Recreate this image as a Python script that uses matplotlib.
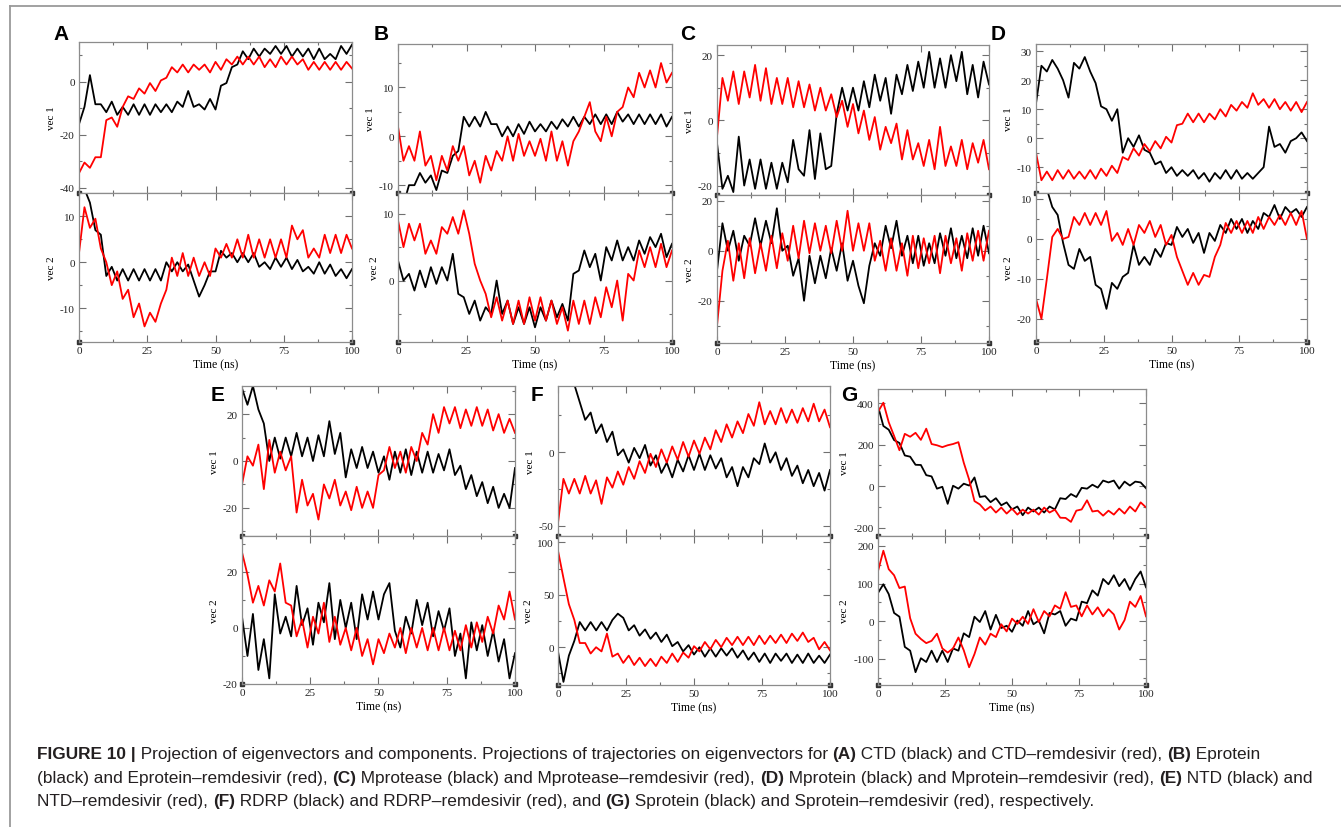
import numpy as np
import matplotlib.pyplot as plt
from matplotlib.lines import Line2D
from matplotlib.ticker import MultipleLocator

plt.rcParams['font.family'] = ['Liberation Serif', 'DejaVu Serif']
plt.rcParams['axes.unicode_minus'] = False

W, H = 1341, 828

# sampling grid of the read-off traces (ns)
time = np.linspace(0, 100, 51)

# values, alternating upper / lower edge of each noisy trace
a1k = [-16, -9.5, 2.5, -8.5, -8.5, -11.5, -7.5, -12.5, -9.5, -12.5, -8.5, -12.5, -8.5, -12.5, -8.5, -11.5, -8.5,
       -11.5, -7.5, -9.5, -3.5, -9.5, -8.5, -10.5, -6.5, -10.5, -1.5, -0.5, 5.5, 6.5, 11.5, 8.5, 12.5, 9.5, 12.5,
       10.5, 13.5, 10.5, 13.5, 9.5, 12.5, 9.5, 12.5, 8.5, 12.5, 8.5, 10.5, 8.5, 13.5, 10.5, 14]
a1r = [-34.5, -30.5, -32.5, -28.5, -28.5, -14.5, -13.5, -17, -9.5, -5.5, -6.5, -2.5, -4.5, -0.5, -3.5, 0.5, 1.5,
       5.5, 3.5, 6.5, 3.5, 6.5, 4.5, 6.5, 3.5, 7.5, 4.5, 8.5, 6.5, 9.5, 6.5, 9.5, 6.5, 9.5, 5.5, 8.5, 5.5, 9.5,
       6.5, 9.5, 6.5, 8.5, 4.5, 7.5, 4.5, 7.5, 4.5, 7.5, 4.5, 7.5, 5]
a2k = [16, 16, 13, 7, 6, -3, -1, -4, -1.5, -4, -1.5, -4, -1.5, -4, -1.5, -4, 0, -2, 0, -2, -0.5, -4, -7.5, -5,
       -2, -2, 2.5, 1, 2, 0, 2, 0, 2, -1, 0, -1.5, 1, -1, 1, -1.5, 0.5, -2, -1, -2.5, 0, -2.5, -0.5, -3, -1.5,
       -3.5, -1.5]
a2r = [2, 12, 7.5, 9.5, 3, 0, -5, -2, -8, -6, -12, -9, -14, -11, -13, -9, -6, 1, -3, 2, -3, 1, -3, 0, -3, 3, 1,
       4, 1, 5, 1, 6, 1, 5, 1, 5, 1, 5, 1, 8, 5, 7, 1, 3, 1, 6, 2, 6, 2, 6, 3]

b1k = [-14, -14, -10, -10, -7.5, -9.5, -8, -11, -7, -7.5, -4, -3, 4, 2, 4, 2, 5, 2.5, 2.5, 0, 2, 0, 2.5, 0.5, 3,
       1, 2.5, 1, 3, 1.5, 3.5, 2, 4, 2, 4, 2.5, 4.5, 2.5, 4.5, 2.5, 5, 3, 4.5, 2.5, 4.5, 2.5, 4.5, 2.5, 4.5, 2, 4]
b1r = [2, -5, -2, -5, 1, -6, -4, -9, -4, -7, -2, -5, -2, -8, -5, -9.5, -4, -7, -3, -5, 0, -5, 0.5, -4, -1, -4,
       -0.5, -5, 1, -5, -1, -6, -1, 1, 4, 7, 1, -1, 4, 0, 5, 6, 10, 8, 13, 10, 13.5, 10, 15, 11, 13]
b2k = [3, 0, 1, -1.5, 1.5, -1, 2, -0.5, 2, 0, 4, -2, -2.5, -5, -3, -6, -4, -5, 0, -5, -3, -6.5, -4, -6.5, -4,
       -7, -4, -6, -3, -5.5, -3.5, -6, 1, 1.5, 4.5, 2, 4, 0, 5, 3, 6, 3, 5, 3, 6, 4, 6.5, 5, 7, 3.5, 5.5]
b2r = [9, 5, 8.5, 6, 8.5, 4, 6, 4, 8, 7, 9.5, 7, 10.5, 7, 2.5, 0, -2, -5.5, -2.5, -6, -3, -6.5, -3, -6.5, -2.5,
       -6, -2.5, -6, -3, -6.5, -4, -7.5, -3, -6.5, -3, -6.5, -2.5, -5.5, -1, -4, 0, -6, 1, 0, 4.5, 2, 5, 2, 5.5,
       2, 4.5]

c1k = [-7, -21, -17, -22, -5, -20, -12, -21, -12, -21, -13, -21, -13, -19, -6, -15, -17, -3, -18, -4, -15, -14,
       2, 10, 3, 10, 3, 12, 4, 14, 6, 13, 2, 14, 8, 17, 9, 18, 10, 21, 10, 19, 10, 20, 12, 21, 8, 17, 7, 18, 11]
c1r = [-5, 13, 6, 15, 5, 15, 7, 17, 6, 16, 5, 13, 5, 13, 4, 12, 4, 11, 3, 10, 3, 8, 1, 6, -2, 5, -4, 3, -6, 1,
       -9, -2, -7, -1, -12, -3, -12, -7, -14, -6, -15, -2, -14, -8, -14, -6, -15, -7, -13, -6, -15]
c2k = [-8, 11, 0, 8, -4, 6, 2, 13, 2, 12, 3, 17, 0, 2, -10, -3, -20, -2, -13, -2, -11, 1, -8, 3, -12, -4, -14,
       -21, -6, 3, -2, 10, 1, 12, -2, 6, -5, 6, -6, 3, -5, 7, -2, 9, -3, 6, -3, 9, -2, 10, -1]
c2r = [-30, -8, 4, -12, 3, -11, 5, -9, 3, -8, 6, -7, 7, -4, 10, -3, 12, -1, 11, 0, 10, -1, 12, 0, 16, 0, 11, 0,
       11, -4, 4, -8, 5, -8, 3, -10, 6, -7, 5, -5, 6, -9, 6, -5, 5, -8, 7, -4, 8, -4, 8]

d1k = [12, 25, 23, 27, 24, 20, 14, 26, 24, 28, 23, 19, 11, 10, 6, 10, -5, 0, -3, 1, -4, -5, -9, -8, -12, -10,
       -13, -11, -13, -11, -14, -12, -15, -12, -14, -11, -14, -11, -14, -12, -14, -12, -10, 4, -3, -2, -5, -1,
       0, 2, -1]
d1r = [-5, -14.5, -11.5, -14.5, -11, -14, -11, -14, -11.5, -14, -11, -14, -10.5, -13, -9.5, -12, -6.5, -7.5,
       -3.5, -6, -2, -4.5, -1, -3.5, 0.5, -1.5, 4.5, 5, 8.5, 5.5, 8.5, 5.5, 8.5, 6.5, 10, 7.5, 11.5, 9.5, 12.5,
       10.5, 15.5, 11.5, 13.5, 10.5, 13.5, 10, 12.5, 9.5, 12.5, 9, 12.5]
d2k = [14, 12, 12.5, 8, 6, -1, -6.5, -7.5, -2.5, -5.5, -4.5, -11.5, -12.5, -17.5, -11, -12.5, -9.5, -8.5, -1.5,
       -6.5, -4.5, -6.5, -2.5, -4.5, -1, -1.5, 3, 0.5, 2.5, -1, 1.5, -3.5, 1.5, -0.5, 3.5, 1.5, 5, 2.5, 5, 1.5,
       4.5, 2.5, 6.5, 5.5, 8.5, 5, 8, 6.5, 7.5, 5.5, 8]
d2r = [-15, -20, -10, 0.5, 2.5, 0, 0.5, 5.5, 3.5, 6.5, 3.5, 6.5, 3.5, 7, -0.5, 1.5, -1.5, 2.5, -1.5, 3.5, 1.5,
       4.5, 0.5, 3.5, -1.5, 1, -4.5, -8, -11.5, -8.5, -11.5, -9, -9.5, -4.5, -1.5, 4, 1.5, 4.5, 1.5, 4.5, 1.5,
       5.5, 2.5, 5.5, 3.5, 6, 3.5, 6.5, 3.5, 7, 0]

e1k = [31, 24, 32, 22, 16, 0, 10, 1, 10, 2, 12, 2, 10, 0, 11, 2, 17, 3, 12, -7, 5, -3, 6, -3, 4, -5, 2, -8, 4,
       -5, 5, -6, 4, -5, 4, -5, 3, -4, 5, -6, -2, -12, -6, -15, -9, -18, -11, -20, -14, -20, -3]
e1r = [-10, 2, -2, 7, -12, 9, -5, 4, -4, 2, -22, -8, -19, -14, -25, -10, -16, -8, -19, -13, -21, -11, -20, -13,
       -20, -6, -4, 6, -3, 4, -5, 6, 0, 12, 7, 20, 12, 23, 16, 23, 14, 22, 15, 23, 15, 22, 13, 20, 12, 18, 12]
e2k = [4, -10, 5, -15, -4, -18, 12, -2, 4, -3, 15, 1, 7, -6, 9, 2, 16, -4, 10, 0, 9, -4, 12, 3, 13, 3, 12, 16,
       -1, -7, 4, -2, 10, 1, 9, -3, 6, -1, 7, -10, -2, -18, 2, -8, 1, -10, -1, -12, -4, -18, -9]
e2r = [27, 19, 9, 15, 8, 17, 13, 23, 9, 8, -3, 3, -7, 4, -2, 9, -5, 4, -6, 0, -8, 0, -10, -4, -13, -4, -9, -2,
       -7, 0, -9, 0, -7, 0, -8, 0, -8, 0, -8, -1, -8, 1, -7, 2, -5, 4, -2, 8, 3, 13, 3]

f1k = [90, 75, 62, 46, 34, 22, 27, 13, 19, 7, 14, -2, 2, -7, 3, -4, 5, -9, -2, -14, -7, -17, -5, -13, -2, -12,
       -1, -12, -2, -11, -4, -17, -10, -23, -10, -17, -4, -8, 6, -7, 0, -12, -4, -16, -9, -21, -12, -23, -14,
       -26, -12]
f1r = [-48, -18, -28, -18, -28, -16, -28, -19, -35, -17, -24, -13, -22, -10, -18, -6, -14, -1, -10, 2, -7, 4,
       -5, 7, -3, 8, -1, 10, 2, 15, 7, 19, 10, 21, 13, 26, 18, 34, 19, 28, 19, 30, 20, 29, 20, 30, 21, 33, 21,
       29, 17]
f2k = [-4, -33, -8, 6, 24, 16, 24, 16, 24, 16, 26, 32, 28, 16, 21, 11, 17, 8, 14, 5, 12, 1, 5, -4, 2, -7, 0, -9,
       -1, -9, -1, -8, -1, -10, -3, -12, -5, -14, -6, -15, -6, -13, -6, -15, -7, -15, -6, -15, -8, -15, -7]
f2r = [92, 66, 41, 26, 4, 4, -6, 0, -4, 13, -9, -6, -15, -8, -17, -10, -18, -11, -18, -9, -15, -6, -14, -5, -10,
       1, -4, 5, -2, 7, 0, 9, 2, 10, 2, 10, 2, 11, 3, 11, 4, 12, 4, 13, 6, 14, 5, 9, -2, 5, -3]

g1k = [385, 290, 272, 222, 208, 148, 142, 103, 102, 53, 47, -12, -3, -85, 2, -12, 12, 3, 42, -52, -48, -77, -58,
       -92, -78, -112, -98, -140, -103, -122, -103, -127, -98, -112, -58, -62, -38, -52, -8, -12, 7, -7, 27, 18,
       27, -12, 22, 3, 22, 18, -10]
g1r = [358, 402, 308, 242, 173, 252, 238, 257, 223, 277, 203, 197, 188, 197, 203, 212, 113, 32, -72, -88, -117,
       -98, -127, -103, -132, -108, -137, -113, -132, -113, -137, -103, -127, -113, -152, -153, -172, -118, -112,
       -68, -122, -118, -142, -118, -137, -108, -132, -98, -122, -78, -102]
g2k = [75, 98, 72, 22, 12, -68, -78, -135, -98, -108, -78, -108, -78, -108, -72, -78, -32, -42, 12, -2, 27, -22,
       17, -18, -12, -28, 2, -12, 27, -8, 2, -32, 22, 18, 27, -12, 7, 2, 52, 48, 82, 68, 112, 98, 122, 93, 112,
       83, 112, 132, 90]
g2r = [133, 187, 138, 122, 88, 92, 8, -33, -47, -58, -52, -33, -72, -83, -72, -43, -77, -122, -87, -43, -62,
       -33, -42, -8, -27, 7, -7, 12, -7, 32, -2, 27, 13, 42, 33, 77, 38, 42, 13, 42, 18, 37, 13, 32, 18, -22, 3,
       52, 38, 67, 13]

# per panel: (vec1 black, vec1 red, y-limits, major step), (vec2 ...)
panels = {
    'A': ((a1k, a1r, (-42, 15), 20), (a2k, a2r, (-17.4, 15.1), 10)),
    'B': ((b1k, b1r, (-11.6, 18.9), 10), (b2k, b2r, (-9.2, 13.1), 10)),
    'C': ((c1k, c1r, (-22.9, 23.1), 20), (c2k, c2r, (-36.9, 22.3), 20)),
    'D': ((d1k, d1r, (-18.9, 32.5), 10), (d2k, d2r, (-25.8, 11.5), 10)),
    'E': ((e1k, e1r, (-32, 32), 20), (e2k, e2r, (-20, 32.8), 20)),
    'F': ((f1k, f1r, (-56.8, 45), 50), (f2k, f2r, (-36, 106), 50)),
    'G': ((g1k, g1r, (-240, 468), 200), (g2k, g2r, (-169, 226), 100)),
}

# pixel boxes: left, right, top, middle, bottom
boxes = {
    'A': (79, 352, 43, 194, 343),
    'B': (398, 672, 45, 194, 343),
    'C': (717, 989, 46, 196, 344),
    'D': (1036, 1307, 45, 194, 343),
    'E': (242, 515, 387, 537, 685),
    'F': (558, 830, 387, 537, 686),
    'G': (878, 1146, 390, 537, 686),
}
letters = {'A': (61, 35), 'B': (381, 35), 'C': (688, 35), 'D': (998, 35),
           'E': (218, 396), 'F': (537, 396), 'G': (849, 396)}

fig = plt.figure(figsize=(W / 100, H / 100), dpi=100)


def px_axes(l, r, t, b):
    return fig.add_axes([l / W, 1 - b / H, (r - l) / W, (b - t) / H])


def style(ax, ylim, step, show_x):
    ax.set_xlim(0, 100)
    ax.set_ylim(*ylim)
    ax.xaxis.set_major_locator(MultipleLocator(25))
    ax.xaxis.set_minor_locator(MultipleLocator(12.5))
    ax.yaxis.set_major_locator(MultipleLocator(step))
    ax.yaxis.set_minor_locator(MultipleLocator(step / 2))
    ax.tick_params(which='both', direction='in', top=True, right=True, color='#707070',
                   width=0.8, labelsize=8, labelcolor='#222222', pad=3)
    ax.tick_params(which='major', length=5)
    ax.tick_params(which='minor', length=2.5)
    for s in ax.spines.values():
        s.set_color('#8c8c8c')
        s.set_linewidth(0.9)
    if not show_x:
        ax.tick_params(labelbottom=False)
    # little grace-style corner squares
    ax.plot([0, 1], [0, 0], 's', ms=2.8, color='#333333', transform=ax.transAxes, clip_on=False)


for key, (top, bottom) in panels.items():
    l, r, t, m, b = boxes[key]
    ax1 = px_axes(l, r, t, m)
    ax2 = px_axes(l, r, m, b)
    for ax, (blk, red, ylim, step), lab, show_x in ((ax1, top, 'vec 1', False), (ax2, bottom, 'vec 2', True)):
        ax.plot(time, blk, color='black', lw=1.3)
        ax.plot(time, red, color='#ff0000', lw=1.3)
        style(ax, ylim, step, show_x)
        ax.set_ylabel(lab, fontsize=8, labelpad=3)
    ax2.set_xlabel('Time (ns)', fontsize=8.5, labelpad=2)
    lx, ly = letters[key]
    fig.text(lx / W, 1 - ly / H, key, fontsize=15, fontweight='bold', family='Liberation Sans',
             ha='center', va='center')

# outer page frame (top and left edge)
fig.add_artist(Line2D([10 / W, 1], [1 - 7 / H, 1 - 7 / H], color='#9a9a9a', lw=1.3))
fig.add_artist(Line2D([10 / W, 10 / W], [0, 1 - 7 / H], color='#9a9a9a', lw=1.3))

# caption with bold runs
caption = [
    [("FIGURE 10 |", True),
     (" Projection of eigenvectors and components. Projections of trajectories on eigenvectors for ", False),
     ("(A)", True), (" CTD (black) and CTD\u2013remdesivir (red), ", False), ("(B)", True), (" Eprotein", False)],
    [("(black) and Eprotein\u2013remdesivir (red), ", False), ("(C)", True),
     (" Mprotease (black) and Mprotease\u2013remdesivir (red), ", False), ("(D)", True),
     (" Mprotein (black) and Mprotein\u2013remdesivir (red), ", False), ("(E)", True), (" NTD (black) and", False)],
    [("NTD\u2013remdesivir (red), ", False), ("(F)", True),
     (" RDRP (black) and RDRP\u2013remdesivir (red), and ", False), ("(G)", True),
     (" Sprotein (black) and Sprotein\u2013remdesivir (red), respectively.", False)],
]
baselines = [759, 783, 806]
renderer = fig.canvas.get_renderer()
for runs, yb in zip(caption, baselines):
    x = 37
    for text, bold in runs:
        tx = fig.text(x / W, 1 - yb / H, text, fontsize=12.4, family='Liberation Sans',
                      fontweight='bold' if bold else 'normal', va='baseline', ha='left', color='#231f20')
        x += tx.get_window_extent(renderer=renderer).width

fig.savefig('out.png', dpi=100)
